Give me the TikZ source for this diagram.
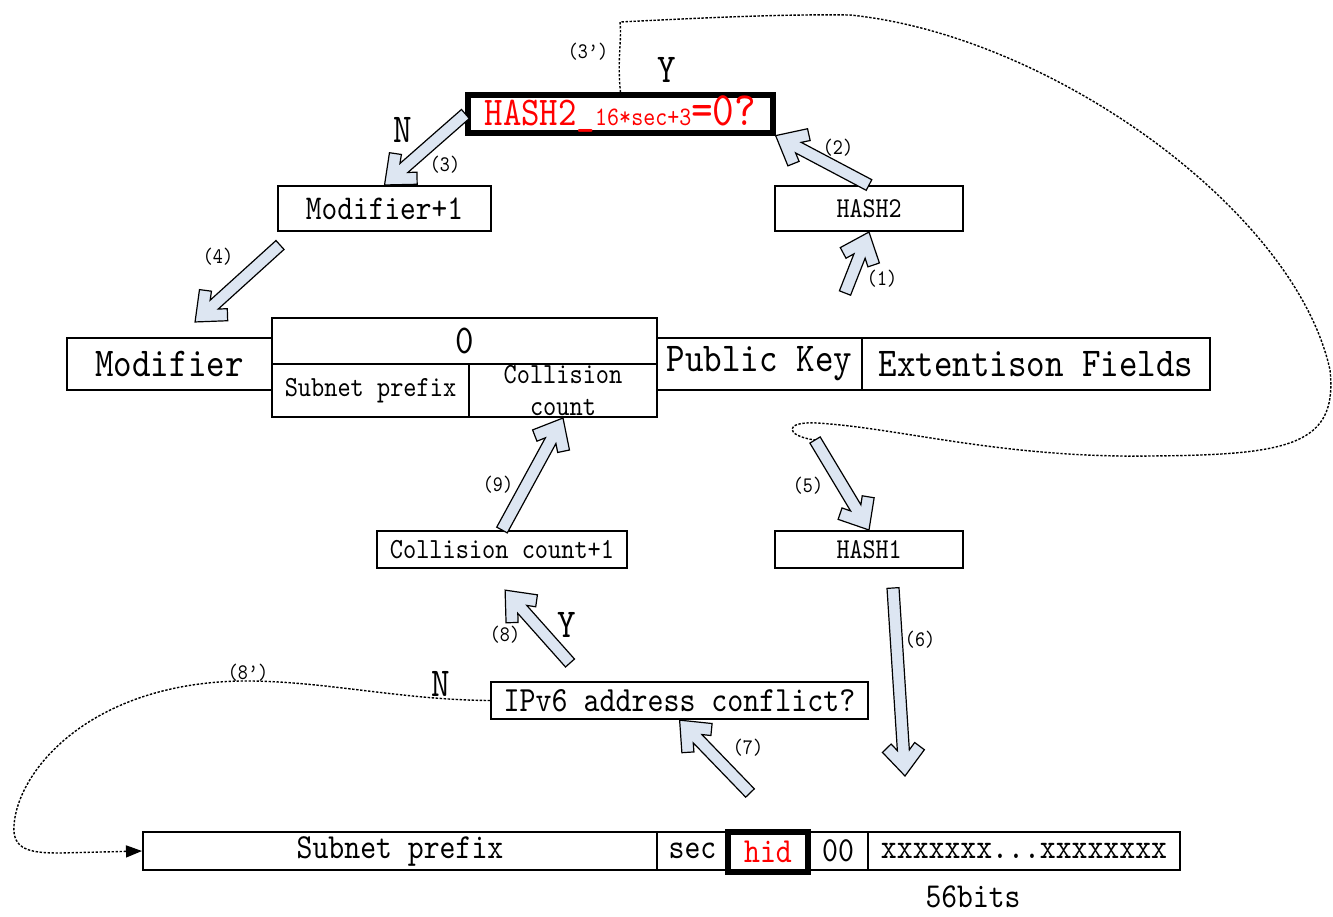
\documentclass[tikz,border=0pt]{standalone}
\usepackage{fontspec}
\setmainfont{lmmono10-regular.otf}[FakeStretch=0.86]
\usetikzlibrary{calc,arrows.meta}
\definecolor{arrfill}{RGB}{221,230,242}
\newcommand\fs[1]{\fontsize{#1}{#1}\selectfont}
% fat hollow arrow from #1 to #2
\newcommand\bigarrow[2]{%
  \path let \p1=(#1), \p2=(#2) in \pgfextra{%
    \pgfmathparse{atan2(\y2-\y1,\x2-\x1)}\xdef\arang{\pgfmathresult}%
    \pgfmathparse{veclen(\x2-\x1,\y2-\y1)}\xdef\arlen{\pgfmathresult}};
  \draw[blockarr, shift={(#1)}, rotate=\arang]
    (0pt,3pt) -- ({\arlen pt-12.9pt},3pt) -- ({\arlen pt-16.4pt},5.9pt)
    -- ({\arlen pt-12.5pt},10.5pt) -- (\arlen pt,0pt)
    -- ({\arlen pt-12.5pt},-10.5pt) -- ({\arlen pt-16.4pt},-5.9pt)
    -- ({\arlen pt-12.9pt},-3pt) -- (0pt,-3pt) -- cycle;
}
\tikzset{
  cell/.style={draw, line width=1pt, inner sep=0pt, align=center},
  sz/.style 2 args={minimum width=#1*0.5pt, minimum height=#2*0.5pt},
  lbl/.style={inner sep=0pt, font=\fs{11.1}},
  yn/.style={inner sep=0pt, font=\fs{20.5}},
  blockarr/.style={draw, line width=0.6pt, fill=arrfill, line join=miter},
  dotline/.style={dash pattern=on 1.2pt off 0.8pt, line width=0.7pt},
}
\begin{document}
\begin{tikzpicture}[x=0.5pt, y=-0.5pt]
	\useasboundingbox (0,0) rectangle (1333,916);
	
	% boxes
	\node[cell, line width=2.6pt, sz={305}{38}, text=red] (hashq) at (620.5,114)
		{\fs{20.4}HASH2\_{\fs{13.3}16*sec+3}{\fs{24}=0?}};
	\node[cell, sz={213}{45}, font=\fs{17.4}] (modone) at (384.5,208.5) {Modifier+1};
	\node[cell, sz={188}{45}, font=\fs{14.4}] (hashtwo) at (869,208.5) {HASH2};
	\node[cell, sz={205}{52}, font=\fs{20.5}] (modifier) at (169.5,364) {Modifier};
	\node[cell, sz={385}{46}, font=\fs{20.5}] (zero) at (464.5,341) {0};
	\node[cell, sz={197}{53}, font=\fs{14.6}] (subpre) at (370.5,390.5) {Subnet prefix};
	\node[cell, sz={188}{53}, font=\fontsize{14.6}{16}\selectfont] (ccount) at (563,390.5) {Collision\\count};
	\node[cell, sz={205}{52}, font=\fs{20.5}] (pubkey) at (759.5,364) {Public Key};
	\node[cell, sz={348}{52}, font=\fs{20.5}] (extf) at (1036,364) {Extentison Fields};
	\node[cell, sz={250}{37}, font=\fs{14.6}] (ccone) at (502,549.5) {Collision count+1};
	\node[cell, sz={188}{37}, font=\fs{14.4}] (hashone) at (869,549.5) {HASH1};
	\node[cell, sz={377}{37}, font=\fs{17.7}] (conflict) at (679.5,700.5) {IPv6 address conflict?};
	
	\node[cell, sz={514}{38}, font=\fs{17.6}] (bsub) at (400,851) {Subnet prefix};
	\node[cell, sz={71}{38}, font=\fs{17.6}] (bsec) at (692.5,851) {sec};
	\node[cell, sz={60}{38}, font=\fs{17.6}] (bzero) at (838,851) {00};
	\node[cell, sz={312}{38}, font=\fs{17.6}] (bx) at (1024,851) {xxxxxxx...xxxxxxxx};
	\node[cell, line width=2.6pt, sz={80}{40}, font=\fs{17.6}, text=red] (bhid) at (768,852) {hid};
	\node[inner sep=0pt, font=\fs{17.5}] (bits) at (973,897) {56bits};
	
	% labels
	\node[lbl] (l3p) at (588,52) {(3')};
	\node[lbl] (l3) at (445,165) {(3)};
	\node[lbl] (l2) at (838,148) {(2)};
	\node[lbl] (l1) at (882,279) {(1)};
	\node[lbl] (l4) at (218,257) {(4)};
	\node[lbl] (l9) at (498,485) {(9)};
	\node[lbl] (l5) at (808,486) {(5)};
	\node[lbl] (l6) at (920,640) {(6)};
	\node[lbl] (l8) at (505,635) {(8)};
	\node[lbl] (l8p) at (248,673) {(8')};
	\node[lbl] (l7) at (748,748) {(7)};
	\node[yn] (ytop) at (667,70) {Y};
	\node[yn] (nleft) at (403,130) {N};
	\node[yn] (ymid) at (567,625) {Y};
	\node[yn] (nlow) at (441,684) {N};
	
	% free ends of the fat arrows
	\coordinate (a1) at (845,293);
	\coordinate (a4s) at (280,245);
	\coordinate (a4e) at (195,322);
	\coordinate (a5) at (815,440);
	\coordinate (a6s) at (893,588);
	\coordinate (a6e) at (905,776);
	\coordinate (a7) at (750,793);
	\coordinate (a8s) at (570,663);
	\coordinate (a8e) at (505,590);
	
	% dotted loops
	\draw[dotline] (hashq.north) .. controls (617,60) and (622,40) .. (620,22)
		.. controls (700,18) and (780,14) .. (850,15)
		.. controls (1050,35) and (1295,210) .. (1330,370)
		.. controls (1338,445) and (1290,455) .. (1150,456)
		.. controls (1000,458) and (900,428) .. (817,423)
		.. controls (783,421) and (785,436) .. (a5);
	\draw[dotline, -{Triangle[length=8pt,width=6pt]}] (conflict.west)
		.. controls (400,700) and (320,680) .. (240,681)
		.. controls (90,684) and (18,770) .. (14,825)
		.. controls (12,850) and (30,853) .. (60,853) -- (bsub.west);
	
	% fat arrows
	\bigarrow{a1}{hashtwo.south}
	\bigarrow{hashtwo.north}{hashq.south east}
	\bigarrow{hashq.west}{modone.north}
	\bigarrow{a4s}{a4e}
	\bigarrow{a5}{hashone.north}
	\bigarrow{a6s}{a6e}
	\bigarrow{a7}{conflict.south}
	\bigarrow{a8s}{a8e}
	\bigarrow{ccone.north}{ccount.south}
\end{tikzpicture}
\end{document}
